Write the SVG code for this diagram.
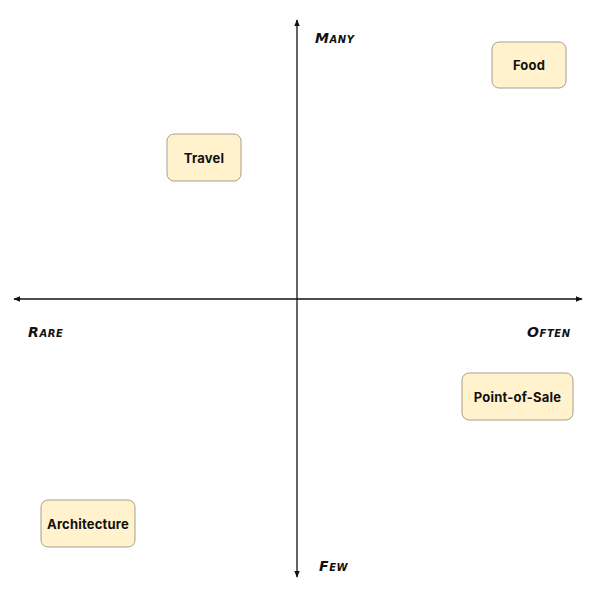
<svg xmlns="http://www.w3.org/2000/svg" width="600" height="600" viewBox="0 0 600 600">
<style>
.node rect{fill:#fff2cc;stroke:#a89f8c;stroke-width:1}
.node text{font-family:"Inter","Open Sans",sans-serif;font-weight:700;font-size:13px;letter-spacing:0.2px;fill:#111;text-anchor:middle;dominant-baseline:central}
.axis{stroke:#111;stroke-width:1.3;fill:none}
.lbl{font-family:"DejaVu Sans",sans-serif;font-weight:700;font-style:italic;font-size:14px;letter-spacing:0.6px;fill:#111;font-variant:small-caps}
</style>
<defs>
<marker id="ah" viewBox="0 0 10 10" refX="9" refY="5" markerWidth="7" markerHeight="7" orient="auto-start-reverse" markerUnits="userSpaceOnUse">
<path d="M0,1 L10,5 L0,9 Z" fill="#111"/>
</marker>
</defs>
<rect width="600" height="600" fill="#fff"/>
<g id="connectors">
<line class="axis" x1="297" y1="577" x2="297" y2="20" marker-start="url(#ah)" marker-end="url(#ah)"/>
<line class="axis" x1="14" y1="299" x2="582" y2="299" marker-start="url(#ah)" marker-end="url(#ah)"/>
</g>
<g id="labels">
<text class="lbl" x="315" y="43">Many</text>
<text class="lbl" x="28" y="337">Rare</text>
<text class="lbl" x="527" y="337">Often</text>
<text class="lbl" x="319" y="571">Few</text>
</g>
<g id="food" class="node"><rect x="492" y="42" width="74" height="46" rx="7"/><text x="529" y="65">Food</text></g>
<g id="travel" class="node"><rect x="167" y="134" width="74" height="47" rx="7"/><text x="204" y="158">Travel</text></g>
<g id="pos" class="node"><rect x="462" y="373" width="111" height="47" rx="7"/><text x="517.5" y="397">Point-of-Sale</text></g>
<g id="architecture" class="node"><rect x="41" y="500" width="94" height="47" rx="7"/><text x="88" y="524">Architecture</text></g>
</svg>
